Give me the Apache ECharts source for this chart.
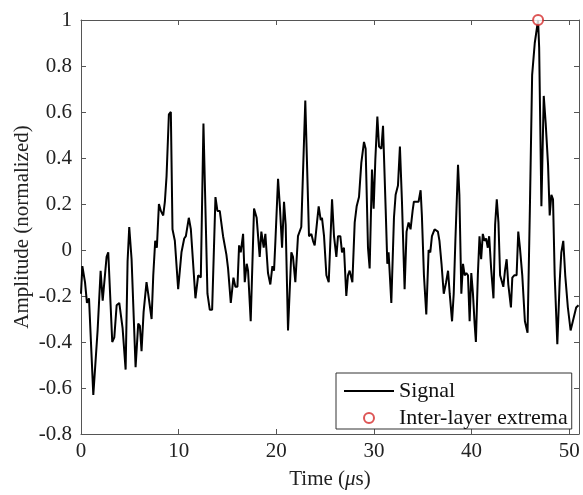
<!DOCTYPE html>
<html>
<head>
<meta charset="utf-8">
<script src="https://cdn.jsdelivr.net/npm/echarts@6/dist/echarts.min.js"></script>
<style>html,body{margin:0;padding:0;background:#fff;}#c{width:583px;height:495px;}</style>
</head>
<body>
<div id="c"></div>
<script>
const time = [0,0.14,0.41,0.61,0.82,1.26,1.43,1.70,2.01,2.22,2.39,2.62,2.79,3.20,3.41,3.65,3.92,4.26,4.57,4.77,4.94,5.18,5.59,5.86,6.03,6.20,6.41,6.71,6.88,7.23,7.40,7.60,7.77,7.98,8.18,8.42,8.59,8.76,9.00,9.20,9.37,9.61,9.95,10.29,10.57,10.74,11.04,11.25,11.72,12.00,12.27,12.54,
12.95,13.19,13.43,13.77,13.97,14.21,14.55,14.89,15.06,15.34,15.61,15.81,16.02,16.19,16.36,16.60,16.77,16.97,17.11,17.38,17.72,17.99,18.30,18.47,18.71,18.88,19.15,19.39,19.60,19.77,19.91,20.18,20.38,20.59,20.79,20.96,21.20,21.54,21.71,21.95,22.22,22.56,22.97,23.35,23.59,23.76,23.93,24.17,
24.34,24.55,24.68,24.89,25.13,25.37,25.71,25.91,26.15,26.32,26.56,26.73,26.93,27.17,27.34,27.51,27.79,28.03,28.23,28.47,28.71,28.98,29.15,29.39,29.56,29.80,29.97,30.14,30.35,30.52,30.76,30.93,31.20,31.37,31.50,31.78,32.05,32.22,32.46,32.66,32.87,33.14,33.34,33.55,33.75,33.96,34.09,34.33,34.57,34.78,34.91,35.12,35.36,35.60,35.77,35.94,36.21,36.55,
36.71,36.92,37.15,37.39,37.59,37.76,38.00,38.17,38.34,38.61,38.75,38.95,39.12,39.29,39.46,39.63,39.80,39.97,40.14,40.31,40.44,40.64,40.81,40.98,41.15,41.32,41.49,41.66,41.80,42.00,42.24,42.41,42.58,42.75,42.92,43.08,43.25,43.42,43.59,43.76,44.03,44.17,44.37,44.61,44.78,44.95,45.19,45.46,45.73,45.97,46.20,46.47,46.81,46.92,47.15,47.39,47.59,47.83,48.00,48.17,48.34,48.51,48.78,49.02,49.19,49.39,49.59,49.86,50.14,50.37,50.71,50.95];
const amplitude = [-0.19,-0.07,-0.14,-0.23,-0.21,-0.63,-0.63,-0.35,-0.09,-0.22,-0.22,-0.03,-0.01,-0.40,-0.38,-0.24,-0.23,-0.34,-0.52,-0.05,0.10,-0.04,-0.51,-0.32,-0.33,-0.44,-0.27,-0.14,-0.19,-0.30,-0.11,0.04,0.01,0.20,0.17,0.15,0.21,0.32,0.59,0.60,0.09,0.04,-0.17,-0.01,0.05,0.06,0.14,0.09,-0.21,-0.11,-0.12,0.55,
-0.19,-0.26,-0.26,0.23,0.17,0.17,0.06,-0.02,-0.08,-0.23,-0.12,-0.16,-0.16,0.02,-0.01,0.07,-0.14,-0.06,-0.09,-0.31,0.18,0.14,-0.03,0.08,0.01,0.07,-0.10,-0.15,-0.07,-0.09,0.04,0.31,0.18,0.01,0.21,0.11,-0.35,-0.01,-0.03,-0.14,0.06,0.10,0.65,0.06,0.07,0.04,0.02,0.12,
0.19,0.13,0.14,0.06,-0.11,-0.14,0.22,0.06,-0.03,0.06,0.06,-0.01,0.01,-0.20,-0.11,-0.09,-0.14,0.12,0.19,0.23,0.38,0.47,0.44,0.01,-0.08,0.35,0.18,0.39,0.58,0.45,0.44,0.54,0.18,-0.06,-0.01,-0.23,0.14,0.24,0.28,0.45,0.21,-0.17,0.08,0.12,0.09,0.17,0.21,0.21,0.21,0.26,0.15,-0.11,-0.28,0.00,-0.01,0.06,0.09,0.08,
0.04,-0.06,-0.19,-0.14,-0.09,-0.19,-0.31,-0.19,0.04,0.37,0.24,-0.19,-0.06,-0.11,-0.10,-0.11,-0.31,-0.10,-0.19,-0.32,-0.40,-0.11,0.06,-0.04,0.07,0.04,0.05,0.01,0.06,-0.08,-0.21,0.11,0.22,0.12,-0.11,-0.11,-0.16,-0.09,-0.04,-0.15,-0.25,-0.12,-0.11,-0.11,0.08,0.01,-0.11,-0.31,-0.36,0.18,0.76,0.90,1.00,0.88,0.19,0.67,0.55,0.37,0.15,0.24,0.22,-0.11,-0.41,-0.14,-0.01,0.04,-0.11,-0.25,-0.35,-0.31,-0.25,-0.24];
const extremaTime = [46.81];
const extremaAmp = [1.0];

const font = '"Liberation Serif", "Times New Roman", serif';
const axisColor = '#555';
const textColor = '#222';
const signalData = time.map((t, i) => [t, amplitude[i]]);
const extremaData = extremaTime.map((t, i) => [t, extremaAmp[i]]);

const frameAxis = (extra) => Object.assign({
  type: 'value',
  axisLine: { show: true, onZero: false, lineStyle: { color: axisColor, width: 1 } },
  axisTick: { show: true, inside: true, length: 5, lineStyle: { color: axisColor } },
  splitLine: { show: false }
}, extra);

const chart = echarts.init(document.getElementById('c'));
chart.setOption({
  animation: false,
  backgroundColor: '#fff',
  grid: { left: 81, top: 20, right: 4, bottom: 58 },
  xAxis: [
    frameAxis({
      min: 0, max: 51, interval: 10, position: 'bottom',
      name: '{a|Time (}{b|μ}{a|s)}', nameLocation: 'middle', nameGap: 35,
      nameTextStyle: { rich: {
        a: { fontFamily: font, fontSize: 21, color: textColor },
        b: { fontFamily: font, fontSize: 21, fontStyle: 'italic', color: textColor } } },
      axisLabel: { show: true, fontFamily: font, fontSize: 21, color: textColor, margin: 7, showMaxLabel: false }
    }),
    frameAxis({ min: 0, max: 51, interval: 10, position: 'top', axisLabel: { show: false } })
  ],
  yAxis: [
    frameAxis({
      min: -0.8, max: 1, interval: 0.2, position: 'left',
      name: 'Amplitude (normalized)', nameLocation: 'middle', nameGap: 48, nameMoveOverlap: false,
      nameTextStyle: { fontFamily: font, fontSize: 21, color: textColor },
      axisLabel: { fontFamily: font, fontSize: 21, color: textColor, margin: 9,
        formatter: v => (Math.round(v * 10) / 10).toString() }
    }),
    frameAxis({ min: -0.8, max: 1, interval: 0.2, position: 'right', axisLabel: { show: false } })
  ],
  legend: {
    orient: 'vertical', left: 336, top: 373,
    padding: [7, 4, 0, 7], itemGap: 5, itemWidth: 50, itemHeight: 10,
    borderColor: '#333', borderWidth: 1, backgroundColor: '#fff',
    textStyle: { fontFamily: font, fontSize: 22, color: '#111' },
    data: [
      { name: 'Signal', itemStyle: { opacity: 0 } },
      { name: 'Inter-layer extrema' }
    ]
  },
  series: [{
    name: 'Signal', type: 'line', data: signalData, showSymbol: false, symbol: 'none',
    lineStyle: { color: '#000', width: 2 }, itemStyle: { color: '#000' }, z: 2
  }, {
    name: 'Inter-layer extrema', type: 'scatter', data: extremaData,
    symbol: 'emptyCircle', symbolSize: 10, clip: false,
    itemStyle: { color: '#d42a2a', borderColor: '#d42a2a', borderWidth: 2 }, z: 3
  }]
});
</script>
</body>
</html>
